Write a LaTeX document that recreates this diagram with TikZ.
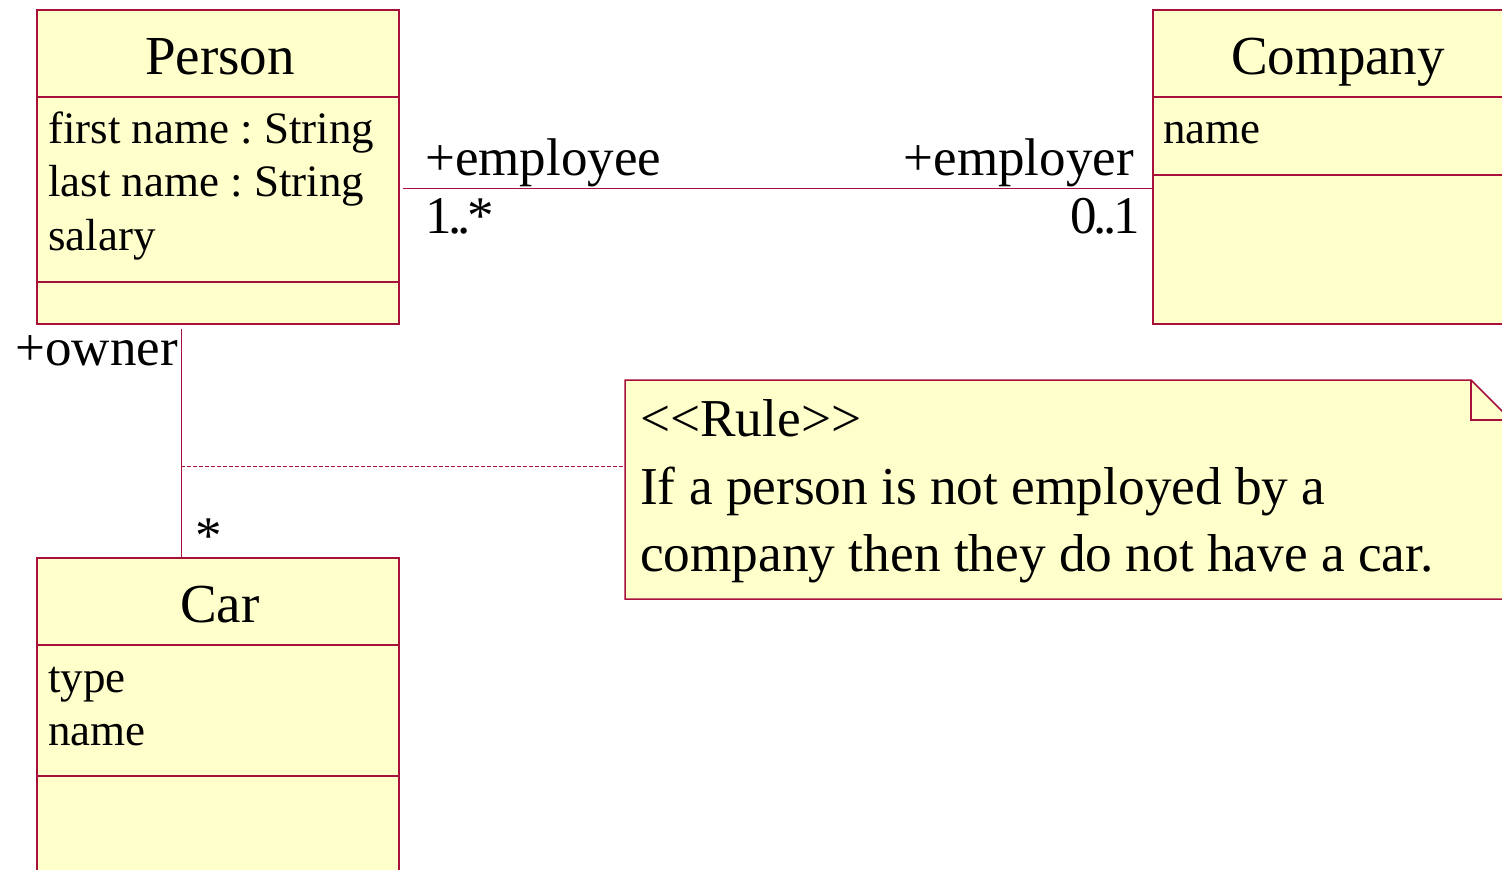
\documentclass[tikz,border=0pt]{standalone}
\usepackage{fontspec}
\setmainfont{Liberation Serif}
\frenchspacing
\definecolor{umlfill}{HTML}{FFFFCC}
\definecolor{umlline}{HTML}{A8103C}
\tikzset{
  cls/.style={draw=umlline, fill=umlfill, line width=1.5pt, rectangle, anchor=north west, inner sep=0pt},
  sep/.style={draw=umlline, line width=1.2pt},
  ctitle/.style={font=\fontsize{55}{60}\selectfont, anchor=base, inner sep=0pt},
  attr/.style={font=\fontsize{45}{54}\selectfont, anchor=base west, inner sep=0pt},
  role/.style={font=\fontsize{53}{60}\selectfont, inner sep=0pt},
  notetext/.style={font=\fontsize{53.3}{60}\selectfont, anchor=base west, inner sep=0pt},
  conn/.style={draw=umlline, line width=1.2pt},
  anchorline/.style={draw=umlline, line width=0.9pt, dash pattern=on 4pt off 2pt},
}
\begin{document}
\begin{tikzpicture}[x=1pt,y=-1pt]
\useasboundingbox (0,0) rectangle (1502,870);
\clip (0,0) rectangle (1502,870);

% Person
\node[cls, minimum width=362pt, minimum height=314pt] (person) at (36,9) {};
\draw[sep] (36,97) -- (398,97);
\draw[sep] (36,282) -- (398,282);
\node[ctitle] (personT) at (220,74) {Person};
\node[attr] (pa1) at (48,143) {first name : String};
\node[attr] (pa2) at (48,196) {last name : String};
\node[attr] (pa3) at (48,250) {salary};

% Company
\node[cls, minimum width=370pt, minimum height=314pt] (company) at (1152,9) {};
\draw[sep] (1152,97) -- (1522,97);
\draw[sep] (1152,175) -- (1522,175);
\node[ctitle] (companyT) at (1338,74) {Company};
\node[attr] (ca1) at (1163,143) {name};

% Car
\node[cls, minimum width=362pt, minimum height=400pt] (car) at (36,557) {};
\draw[sep] (36,645) -- (398,645);
\draw[sep] (36,776) -- (398,776);
\node[ctitle] (carT) at (220,622) {Car};
\node[attr] (cr1) at (48,692) {type};
\node[attr] (cr2) at (48,745) {name};

% Note
\node[anchor=north west, minimum width=886pt, minimum height=219pt, inner sep=0pt] (note) at (625,380) {};
\filldraw[draw=umlline, fill=umlfill, line width=1.5pt]
  (625,380) -- (1471,380) -- (1511,420) -- (1511,599) -- (625,599) -- cycle;
\draw[draw=umlline, line width=1.2pt] (1471,380) -- (1471,420) -- (1511,420);
\node[notetext] (n1) at (640,436) {<\kern0pt<Rule>\kern0pt>};
\node[notetext] (n2) at (640,504) {If a person is not employed by a};
\node[notetext] (n3) at (640,571) {company then they do not have a car.};

% Association Person -- Company
\draw[conn] ([shift={(3,22)}]person.east) -- ([shift={(0,22)}]company.west);
\node[role, anchor=base west] (r1) at (425,175) {+employee};
\node[role, anchor=base west] (m1) at (425,233) {1\kern-3.5pt.\kern-3.5pt.\kern-3.5pt*};
\node[role, anchor=base east] (r2) at (1134,175) {+employer};
\node[role, anchor=base east] (m2) at (1140,233) {0\kern-3.5pt.\kern-3.5pt.\kern-3.5pt1};

% Association Person -- Car
\draw[conn] ([shift={(-36,4)}]person.south) -- ([xshift=-36pt]car.north);
\node[role, anchor=base east] (r3) at (178,365) {+owner};
\node[role, anchor=base west] (m3) at (195,553) {*};

% Note anchor
\coordinate (dashL) at (181,466);
\draw[anchorline] (dashL) -- (note.west |- dashL);
\end{tikzpicture}
\end{document}
